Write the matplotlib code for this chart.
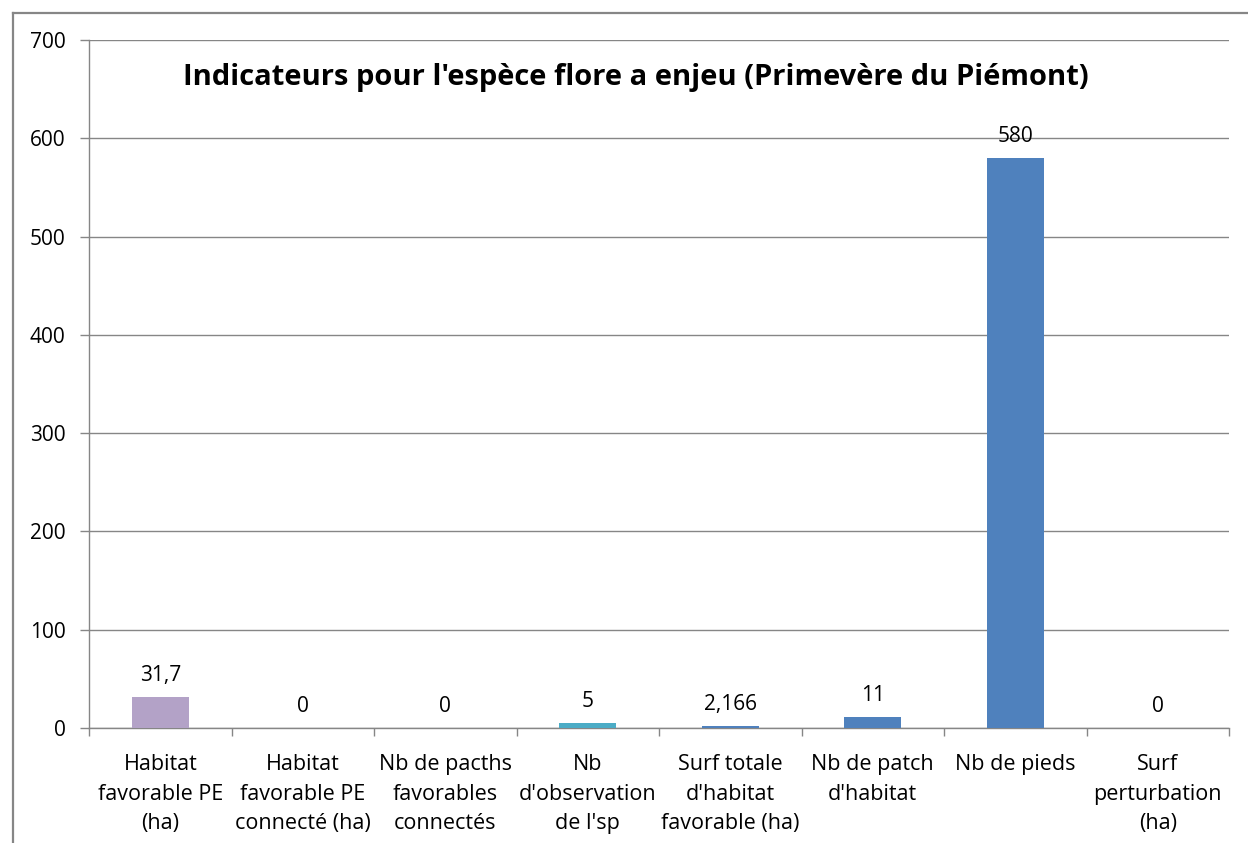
import matplotlib
matplotlib.use("Agg")
import matplotlib.pyplot as plt
from matplotlib.lines import Line2D

plt.rcParams['font.family'] = ['Open Sans', 'DejaVu Sans']

categories = [
    "Habitat\nfavorable PE\n(ha)",
    "Habitat\nfavorable PE\nconnecté (ha)",
    "Nb de pacths\nfavorables\nconnectés",
    "Nb\nd'observation\nde l'sp",
    "Surf totale\nd'habitat\nfavorable (ha)",
    "Nb de patch\nd'habitat",
    "Nb de pieds",
    "Surf\nperturbation\n(ha)",
]
values = [31.7, 0, 0, 5, 2.166, 11, 580, 0]
value_labels = ["31,7", "0", "0", "5", "2,166", "11", "580", "0"]
bar_colors = ["#B3A2C7", "#4F81BD", "#4F81BD", "#4BACC6",
              "#4F81BD", "#4F81BD", "#4F81BD", "#4F81BD"]
y_ticks = [0, 100, 200, 300, 400, 500, 600, 700]
title = "Indicateurs pour l'espèce flore a enjeu (Primevère du Piémont)"

W, H = 1248, 843
fig = plt.figure(figsize=(W / 100, H / 100), dpi=100)
ax = fig.add_axes([89 / W, 1 - 728 / H, (1229 - 89) / W, (728 - 40) / H])

grid_c = "#868686"
x = list(range(len(categories)))
ax.bar(x, values, width=0.4, color=bar_colors, zorder=3)

for xi, v, lab in zip(x, values, value_labels):
    ax.annotate(lab, (xi, v), xytext=(0, 8), textcoords="offset points",
                ha="center", va="bottom", fontsize=15, color="#000000")

ax.set_xlim(-0.5, len(categories) - 0.5)
ax.set_ylim(0, 700)
ax.set_yticks(y_ticks)
ax.set_yticklabels([str(t) for t in y_ticks], fontsize=15)
ax.set_xticks(x)
ax.set_xticklabels(categories, fontsize=15.5, linespacing=1.52)
ax.tick_params(axis="x", length=0, pad=19)
ax.tick_params(axis="y", length=6.5, color=grid_c, pad=10.5, width=1)

# category separators below the axis
ax.set_xticks([i - 0.5 for i in range(len(categories) + 1)], minor=True)
ax.tick_params(axis="x", which="minor", length=6, color=grid_c, width=1)

ax.yaxis.grid(True, color=grid_c, linewidth=1)
ax.set_axisbelow(True)
for s in ("top", "right"):
    ax.spines[s].set_visible(False)
for s in ("left", "bottom"):
    ax.spines[s].set_color(grid_c)
    ax.spines[s].set_linewidth(1)

fig.text(636 / W, 1 - 77 / H, title, ha="center", va="center",
         fontsize=21, fontweight="bold")

# outer chart frame (left and top edges)
fig.add_artist(Line2D([13 / W, 13 / W], [0, 1 - 13 / H], transform=fig.transFigure,
                      color=grid_c, linewidth=1.6))
fig.add_artist(Line2D([13 / W, 1], [1 - 13 / H, 1 - 13 / H], transform=fig.transFigure,
                      color=grid_c, linewidth=1.6))

fig.savefig("out.png", dpi=100)
